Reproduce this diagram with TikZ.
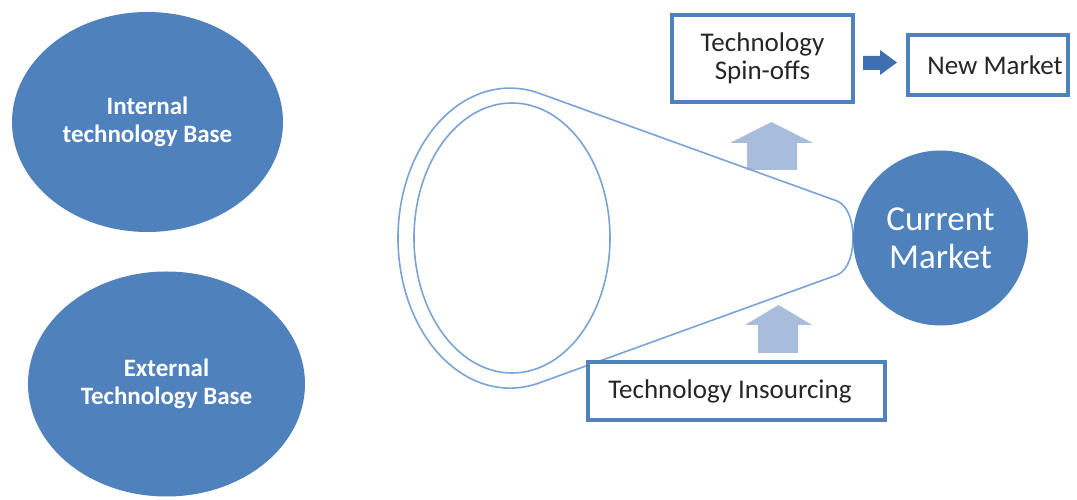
\documentclass[tikz,border=0pt]{standalone}
\usepackage{fontspec}
\setmainfont{Carlito}
\usetikzlibrary{shapes.geometric}
\definecolor{obl}{HTML}{4F81BD}
\definecolor{fun}{HTML}{7BA3D6}
\definecolor{upar}{HTML}{A8BDDC}
\definecolor{darr}{HTML}{3F6FB0}
\definecolor{txt}{HTML}{262626}
\tikzset{
  base/.style={ellipse, fill=obl, draw=none, text=white, align=center, font=\fontsize{25}{28}\selectfont\bfseries, inner sep=0pt},
  mbox/.style={draw=obl, line width=3.3pt, fill=white, text=txt, align=center, font=\fontsize{27}{28}\selectfont, inner sep=0pt},
  funline/.style={draw=fun, line width=1.6pt},
  uparrow/.style={fill=upar, draw=none},
}
\begin{document}
\begin{tikzpicture}[x=1pt,y=1pt]
\useasboundingbox (0,0) rectangle (1077,500);
\fill[white] (0,0) rectangle (1077,500);
% base ellipses
\node[base, minimum width=271pt, minimum height=220pt] (internal) at (147.5,378) {Internal\\technology Base};
\node[base, minimum width=277pt, minimum height=225pt] (external) at (166.5,116) {External\\Technology Base};
% up arrows (behind funnel)
\fill[uparrow] (747,330) -- (747,357) -- (730,357) -- (771.5,378) -- (813,357) -- (797,357) -- (797,330) -- cycle;
\fill[uparrow] (758,147) -- (758,175) -- (745,175) -- (778.5,195) -- (812,175) -- (798,175) -- (798,147) -- cycle;
% funnel
\coordinate (lowT) at (539,117);
\coordinate (upT) at (837,299);
\coordinate (tip) at (853,262);
\coordinate (lowR) at (837,225);
\draw[funline] (lowT) arc[start angle=-75, end angle=-285, x radius=112pt, y radius=150pt] -- (upT) .. controls (849,294.5) and (853,276) .. (tip) .. controls (853,248) and (849,229.5) .. (lowR) -- cycle;
\node[ellipse, funline, minimum width=196pt, minimum height=270pt, inner sep=0pt] (inner) at (512,262) {};
% current market
\node[circle, fill=obl, text=white, align=center, minimum size=175pt, inner sep=0pt, font=\fontsize{35}{38}\selectfont] (current) at (940.5,262) {Current\\Market};
% boxes
\node[mbox, minimum width=181pt, minimum height=87pt] (spin) at (762.5,441.5) {Technology\\Spin-offs};
\node[mbox, minimum width=160pt, minimum height=60pt] (newm) at (988,435) {\hspace*{14pt}New Market};
\node[mbox, minimum width=297pt, minimum height=58pt] (insrc) at (736.5,109) {Technology Insourcing\hspace*{13pt}};
% dark right arrow between spin-offs and new market
\fill[darr] (863,430) -- (880,430) -- (880,425) -- (897,437.5) -- (880,450) -- (880,444) -- (863,444) -- cycle;
\end{tikzpicture}
\end{document}
